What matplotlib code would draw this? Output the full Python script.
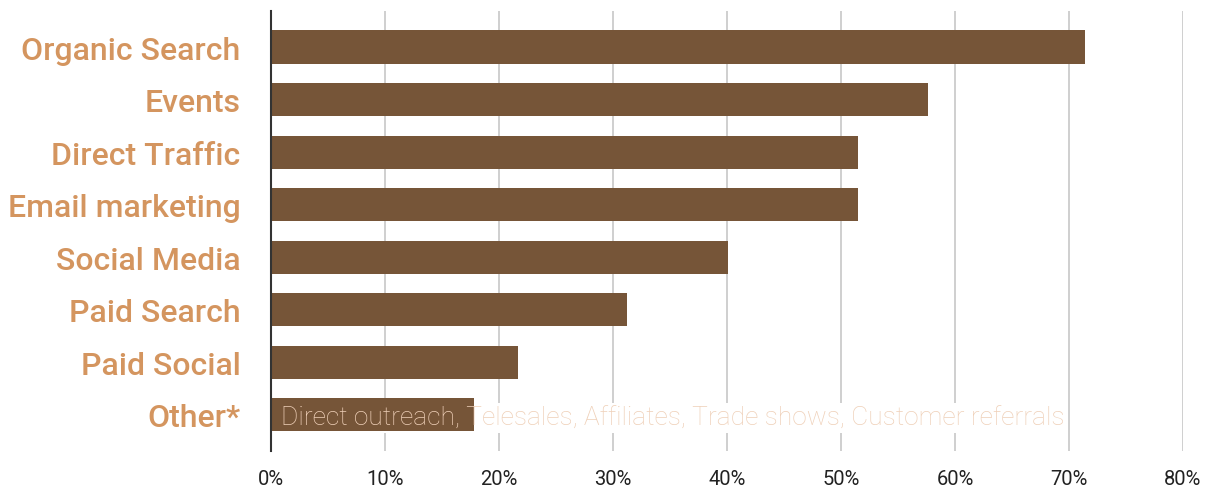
import numpy as np
import matplotlib.pyplot as plt
from matplotlib.ticker import PercentFormatter

# lead sources and share of respondents (%)
channels = ["Organic Search", "Events", "Direct Traffic", "Email marketing",
            "Social Media", "Paid Search", "Paid Social", "Other*"]
shares = [71.4, 57.6, 51.5, 51.5, 40.1, 31.2, 21.7, 17.8]
other_note = "Direct outreach, Telesales, Affiliates, Trade shows, Customer referrals"
xticks = [0, 10, 20, 30, 40, 50, 60, 70, 80]

bar_color = "#765538"
label_color = "#d4955f"
note_color = "#efd0b8"

fig = plt.figure(figsize=(12.19, 4.89), dpi=100)
ax = fig.add_axes([0.2223, 0.0757, 0.7482, 0.8998])

y = np.arange(len(channels))
ax.barh(y, shares, height=0.63, color=bar_color, zorder=3)

ax.set_xlim(0, 80)
ax.set_ylim(len(channels) - 1 + 0.686, -0.686)
ax.set_xticks(xticks)
ax.xaxis.set_major_formatter(PercentFormatter(decimals=0))
ax.set_yticks(y)
ax.set_yticklabels(channels, fontfamily="Roboto", fontweight="medium",
                   fontsize=23, color=label_color)

ax.grid(axis="x", color="#cccccc", linewidth=1.3, zorder=0)
ax.tick_params(axis="y", length=0, pad=22)
ax.tick_params(axis="x", length=0, pad=13, labelsize=14.5, labelcolor="#222222")
for lbl in ax.get_xticklabels():
    lbl.set_fontfamily("Roboto")

for side in ["top", "right", "bottom"]:
    ax.spines[side].set_visible(False)
ax.spines["left"].set_color("#333333")
ax.spines["left"].set_linewidth(1.5)
ax.spines["left"].set_zorder(4)

# note on the "Other" row: white backing hides the gridlines, bar stays on top
last = len(channels) - 1
note_y = last + 0.06
ax.text(0.9, note_y, other_note, fontfamily="Roboto", fontweight="light",
        fontsize=19, color="white", va="center", ha="left", zorder=2,
        bbox=dict(facecolor="white", edgecolor="none", pad=2))
ax.text(0.9, note_y, other_note, fontfamily="Roboto", fontweight="light",
        fontsize=19, color=note_color, va="center", ha="left", zorder=5)

fig.savefig("out.png", dpi=100)
